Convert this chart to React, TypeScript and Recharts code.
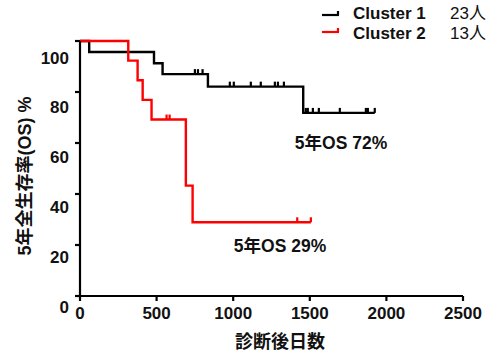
import React from "react";
import { LineChart, Line, XAxis, YAxis } from "recharts";
import type { JSX } from "react";

// Kaplan-Meier steps (days after diagnosis, survival %)
const cluster1Days = [0, 60, 483, 539, 750, 770, 800, 835, 978, 1004, 1115, 1180, 1272, 1292, 1331, 1457, 1474, 1487, 1520, 1559, 1696, 1866, 1879, 1924];
const cluster1Surv = [100, 95.7, 91.3, 87.0, 87.0, 87.0, 87.0, 82.1, 82.1, 82.1, 82.1, 82.1, 82.1, 82.1, 82.1, 71.8, 71.8, 71.8, 71.8, 71.8, 71.8, 71.8, 71.8, 71.8];
const cluster1Censored = [0, 0, 0, 0, 1, 1, 1, 0, 1, 1, 1, 1, 1, 1, 1, 0, 1, 1, 1, 1, 1, 1, 1, 1];

const cluster2Days = [0, 315, 376, 409, 467, 565, 585, 691, 735, 1418, 1507];
const cluster2Surv = [100, 92.3, 84.6, 76.9, 69.2, 69.2, 69.2, 43.3, 28.9, 28.9, 28.9];
const cluster2Censored = [0, 0, 0, 0, 0, 1, 1, 0, 0, 1, 1];

const xTicks = [0, 500, 1000, 1500, 2000, 2500];
const yTicks = [0, 20, 40, 60, 80, 100];

const legendItems = [
  { name: "Cluster 1", n: "23人", color: "#000000" },
  { name: "Cluster 2", n: "13人", color: "#ff0000" },
];

const FONT = "'Liberation Sans', Arial, 'Noto Sans CJK JP', sans-serif";

type Row = { day: number; surv: number; censored: boolean };
const toRows = (d: number[], s: number[], c: number[]): Row[] =>
  d.map((day, i) => ({ day, surv: s[i], censored: c[i] === 1 }));

const c1 = toRows(cluster1Days, cluster1Surv, cluster1Censored);
const c2 = toRows(cluster2Days, cluster2Surv, cluster2Censored);

const censorDot = (color: string) => (p: any) => {
  if (!p.payload?.censored) return <g key={p.index} />;
  return <line key={p.index} x1={p.cx} x2={p.cx} y1={p.cy} y2={p.cy - 5} stroke={color} strokeWidth={2.2} />;
};

// the y labels in the original sit a bit below their ticks
const YTick = (p: any) => (
  <text x={p.x} y={p.y + 11 + 0.06 * p.payload.value} textAnchor="end" dominantBaseline="central"
    fontSize={17} fontWeight="bold" fill="#111" fontFamily={FONT}>
    {p.payload.value}
  </text>
);

export default function App(): JSX.Element {
  return (
    <div style={{ position: "absolute", left: 0, top: 0, width: 500, height: 359, background: "#fff", fontFamily: FONT }}>
      <LineChart width={500} height={359} margin={{ top: 41, right: 37, bottom: 33, left: 0 }}>
        <XAxis type="number" dataKey="day" domain={[0, 2500]} ticks={xTicks} height={30}
          axisLine={{ stroke: "#000", strokeWidth: 2.2 }} tickLine={{ stroke: "#000", strokeWidth: 2.2 }}
          tickSize={5} tickMargin={6} allowDataOverflow
          tick={{ fontSize: 17, fontWeight: "bold", fill: "#111", fontFamily: FONT }} />
        <YAxis type="number" dataKey="surv" domain={[0, 100]} ticks={yTicks} width={80}
          axisLine={{ stroke: "#000", strokeWidth: 2.2 }} tickLine={{ stroke: "#000", strokeWidth: 2.2 }}
          tickSize={5} tickMargin={6} tick={<YTick />} />
        <Line data={c1} dataKey="surv" type="stepAfter" stroke="#000" strokeWidth={2.4}
          dot={censorDot("#000")} activeDot={false} isAnimationActive={false} />
        <Line data={c2} dataKey="surv" type="stepAfter" stroke="#ff0000" strokeWidth={2.4}
          dot={censorDot("#ff0000")} activeDot={false} isAnimationActive={false} />
      </LineChart>
      <svg width={500} height={359} style={{ position: "absolute", left: 0, top: 0, pointerEvents: "none" }}>
        {legendItems.map((it, i) => {
          const y = 15 + i * 17;
          const ty = 13 + i * 20;
          return (
            <g key={it.name}>
              <line x1={322} x2={339} y1={y} y2={y} stroke={it.color} strokeWidth={2.2} />
              <line x1={338} x2={338} y1={y} y2={y - 4} stroke={it.color} strokeWidth={2.2} />
              <text x={353} y={ty} dominantBaseline="central" fontSize={17} fontWeight="bold" fill="#111" fontFamily={FONT}>{it.name}</text>
              <text x={450} y={ty} dominantBaseline="central" fontSize={17} fill="#111" fontFamily={FONT}>{it.n}</text>
            </g>
          );
        })}
        <text x={25} y={176} transform="rotate(-90 25 176)" textAnchor="middle" dominantBaseline="central"
          fontSize={18} fontWeight="bold" fill="#111" fontFamily={FONT}>5年全生存率(OS) %</text>
        <text x={280} y={342} textAnchor="middle" dominantBaseline="central"
          fontSize={18} fontWeight="bold" fill="#111" fontFamily={FONT}>診断後日数</text>
        <text x={341} y={143} textAnchor="middle" dominantBaseline="central"
          fontSize={17.5} fontWeight="bold" fill="#111" fontFamily={FONT}>5年OS 72%</text>
        <text x={280} y={246} textAnchor="middle" dominantBaseline="central"
          fontSize={17.5} fontWeight="bold" fill="#111" fontFamily={FONT}>5年OS 29%</text>
      </svg>
    </div>
  );
}
